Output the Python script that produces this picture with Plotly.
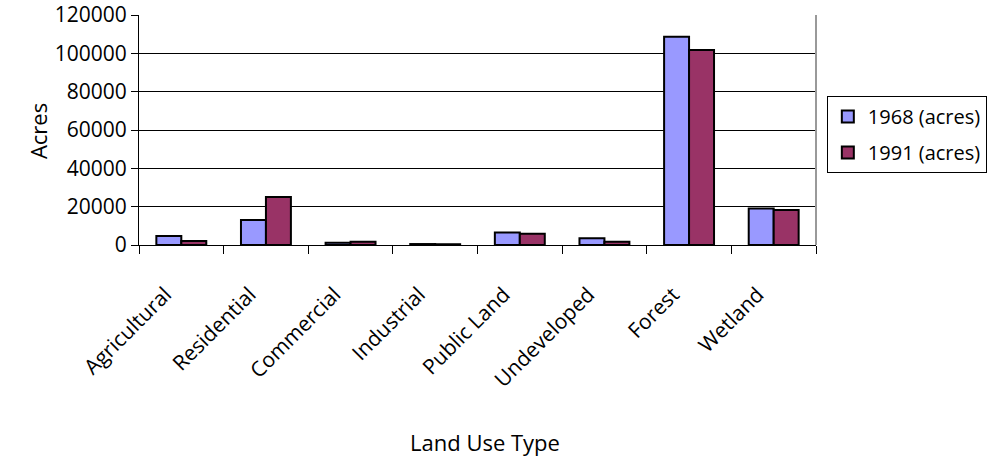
import plotly.graph_objects as go

categories = ["Agricultural", "Residential", "Commercial", "Industrial",
              "Public Land", "Undeveloped", "Forest", "Wetland"]
acres_1968 = [4700, 13000, 1200, 500, 6500, 3500, 108700, 19000]
acres_1991 = [2100, 25100, 1700, 400, 5900, 1700, 101700, 18300]
y_ticks = [0, 20000, 40000, 60000, 80000, 100000, 120000]

FONT = "Open Sans"

fig = go.Figure()
fig.add_trace(go.Bar(
    x=categories, y=acres_1968, name="1968 (acres)", legendgroup="a",
    marker=dict(color="#9999FF", line=dict(color="black", width=2)),
))
fig.add_trace(go.Bar(
    x=categories, y=acres_1991, name="1991 (acres)", legendgroup="b",
    marker=dict(color="#993366", line=dict(color="black", width=2)),
))

fig.update_layout(
    width=989, height=473,
    margin=dict(l=139, r=173, t=15, b=228, autoexpand=False),
    paper_bgcolor="white", plot_bgcolor="white",
    barmode="group", bargap=0.41, bargroupgap=0,
    font=dict(family=FONT, size=21, color="black"),
    showlegend=True,
    legend=dict(
        x=1.016, y=0.648, xanchor="left", yanchor="top",
        bordercolor="black", borderwidth=1,
        font=dict(family=FONT, size=20, color="black"),
        tracegroupgap=7,
    ),
    xaxis=dict(
        tickangle=-45, tickfont=dict(size=21),
        ticks="outside", ticklen=8, tickcolor="black", tickson="boundaries",
        ticklabelstandoff=28, ticklabelshift=-16,
        showline=True, linecolor="black", linewidth=1,
        showgrid=False,
    ),
    yaxis=dict(
        range=[0, 120000.5], tickvals=y_ticks,
        ticktext=[str(v) for v in y_ticks],
        tickfont=dict(size=21),
        ticks="outside", ticklen=7, tickcolor="black",
        showline=True, linecolor="black", linewidth=1,
        showgrid=True, gridcolor="black", gridwidth=1,
        zeroline=False,
    ),
)

# axis titles
fig.add_annotation(text="Acres", xref="paper", yref="paper",
                   x=-0.174, y=0.496, showarrow=False, textangle=-90,
                   font=dict(family=FONT, size=22, color="black"))
fig.add_annotation(text="Land Use Type", xref="paper", yref="paper",
                   x=0.511, y=-0.93, showarrow=False,
                   font=dict(family=FONT, size=22, color="black"))

# right-hand border of the plot area
fig.add_shape(type="line", xref="paper", yref="paper",
              x0=1, x1=1, y0=0, y1=1,
              line=dict(color="#999999", width=2))

fig.write_html("out.html")
